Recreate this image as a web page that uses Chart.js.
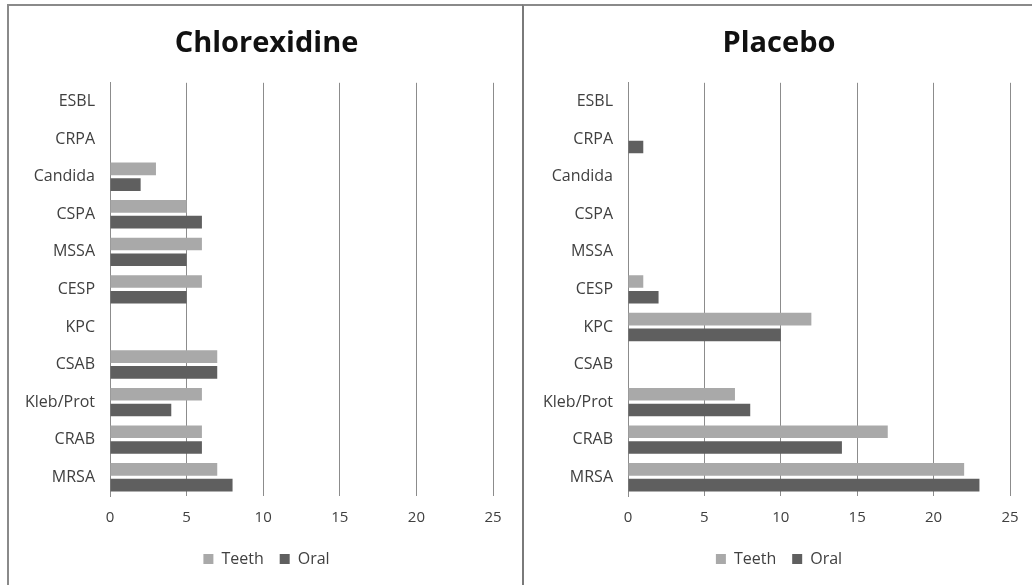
<!DOCTYPE html>
<html>
<head>
<meta charset="utf-8">
<script src="https://cdn.jsdelivr.net/npm/chart.js@4.4.1/dist/chart.umd.min.js"></script>
<style>
    body { margin: 0; background: #fff; width: 1032px; height: 585px; overflow: hidden; position: relative; }
    .panel { position: absolute; top: 4px; height: 581px; border-top: 2px solid #8a8a8a; }
    #left { left: 7px; width: 515px; border-left: 2px solid #8a8a8a; }
    #right { left: 522px; width: 510px; border-left: 2px solid #7a7a7a; }
    canvas { display: block; }
</style>
</head>
<body>
<div class="panel" id="left"><canvas id="chartChlor" width="515" height="579"></canvas></div>
<div class="panel" id="right"><canvas id="chartPlacebo" width="510" height="579"></canvas></div>

<script>
// categorias, de arriba hacia abajo
const organisms = ["ESBL", "CRPA", "Candida", "CSPA", "MSSA", "CESP", "KPC", "CSAB", "Kleb/Prot", "CRAB", "MRSA"];
const xTicks = [0, 5, 10, 15, 20, 25];

const chlorTeeth = [0, 0, 3, 5, 6, 6, 0, 7, 6, 6, 7];
const chlorOral  = [0, 0, 2, 6, 5, 5, 0, 7, 4, 6, 8];

const placeboTeeth = [0, 0, 0, 0, 0, 1, 12, 0, 7, 17, 22];
const placeboOral  = [0, 1, 0, 0, 0, 2, 10, 0, 8, 14, 23];

const teethColor = "#a9a9a9";
const oralColor = "#5f5f5f";
const gridColor = "#8c8c8c";
const fontName = "'Open Sans', sans-serif";

// axisWidth: ancho del eje de etiquetas; rightGap: eje vacio a la derecha (deja titulo y leyenda centrados en el panel)
function makeChart(id, title, teeth, oral, axisWidth, rightGap) {
    const ctx = document.getElementById(id);
    return new Chart(ctx, {
        type: "bar",
        data: {
            labels: organisms,
            datasets: [
                { label: "Teeth", data: teeth, backgroundColor: teethColor },
                { label: "Oral", data: oral, backgroundColor: oralColor },
            ],
        },
        options: {
            indexAxis: "y",
            responsive: false,
            animation: false,
            barPercentage: 0.8,
            categoryPercentage: 0.84,
            layout: { padding: { left: 0, right: 0, top: 0, bottom: 8 } },
            scales: {
                x: {
                    min: 0,
                    max: 25,
                    afterBuildTicks: function (scale) {
                        scale.ticks = xTicks.map(v => ({ value: v }));
                    },
                    afterFit: function (scale) { scale.height = 39; },
                    grid: { color: gridColor, lineWidth: 1, drawTicks: false },
                    border: { display: false },
                    ticks: {
                        color: "#404040",
                        padding: 13,
                        font: { family: fontName, size: 15 },
                    },
                },
                y: {
                    grid: { display: false, drawTicks: false },
                    border: { display: true, color: gridColor, width: 1 },
                    afterFit: function (scale) { scale.width = axisWidth; },
                    ticks: {
                        color: "#404040",
                        padding: 15,
                        font: { family: fontName, size: 16 },
                    },
                },
                yGap: {
                    type: "category",
                    position: "right",
                    grid: { display: false, drawTicks: false },
                    border: { display: false },
                    ticks: { display: false },
                    afterFit: function (scale) { scale.width = rightGap; },
                },
            },
            plugins: {
                title: {
                    display: true,
                    text: title,
                    color: "#111",
                    font: { family: fontName, size: 29, weight: "bold", lineHeight: 1.2 },
                    padding: { top: 20, bottom: 22 },
                },
                legend: {
                    position: "bottom",
                    labels: {
                        boxWidth: 10,
                        boxHeight: 10,
                        padding: 16,
                        color: "#404040",
                        font: { family: fontName, size: 16 },
                    },
                },
                tooltip: { enabled: false },
            },
        },
    });
}

makeChart("chartChlor", "Chlorexidine", chlorTeeth, chlorOral, 101, 31);
makeChart("chartPlacebo", "Placebo", placeboTeeth, placeboOral, 104, 24);
</script>
</body>
</html>
